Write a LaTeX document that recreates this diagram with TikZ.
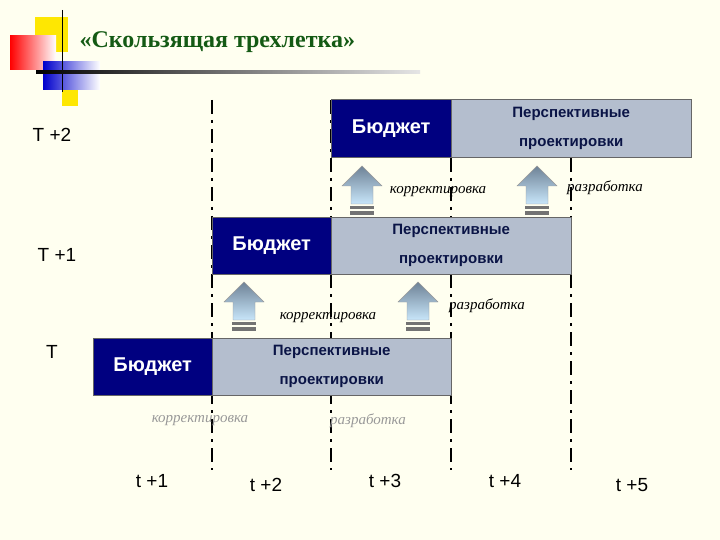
\documentclass[tikz,border=0pt]{standalone}
\usepackage{fontspec}
\setmainfont{Liberation Serif}
\newfontfamily\sansb{Liberation Sans}
\definecolor{navy}{RGB}{0,0,128}
\definecolor{pbox}{RGB}{180,190,206}
\definecolor{ptext}{RGB}{10,20,70}
\definecolor{bgc}{RGB}{255,255,240}
\definecolor{ttl}{RGB}{20,90,20}
\definecolor{atop}{RGB}{110,130,150}
\definecolor{abot}{RGB}{200,230,250}
\begin{document}
\begin{tikzpicture}[x=1pt,y=-1pt,
  budg/.style={draw=black!60,fill=navy,text=white,font=\sansb\bfseries\fontsize{20}{20}\selectfont,inner sep=0pt},
  persp/.style={draw=black!60,fill=pbox,text=ptext,font=\sansb\bfseries\fontsize{15}{29}\selectfont,align=center,inner sep=0pt},
  vl/.style={line width=2.6pt,dash pattern=on 14pt off 6pt on 3pt off 6pt},
  lab/.style={font=\itshape\fontsize{15}{15}\selectfont},
  tl/.style={font=\sansb\fontsize{19}{19}\selectfont}]
\useasboundingbox (0,0) rectangle (720,540);
\fill[bgc] (0,0) rectangle (720,540);
% decoration
\fill[yellow!90!orange] (35,17) rectangle (68,52);
\fill[yellow!90!orange] (62,88) rectangle (78,106);
\shade[left color=red, right color=white] (10,36) rectangle (56,70);
\shade[left color=blue!80!black, right color=white] (43,62) rectangle (100,90);
\draw[line width=1pt] (62,10) -- (62,92);
\shade[left color=black, right color=black!10] (36,71) rectangle (420,73.5);
\node[font=\bfseries\fontsize{24}{24}\selectfont,text=ttl,anchor=west] (title) at (76,42) {«Скользящая трехлетка»};
% vertical lines
\foreach \x/\n in {212/a,331/b,451/c,571/d}{\coordinate (t\n) at (\x,100); \coordinate (b\n) at (\x,470); \draw[vl] (t\n) -- (b\n);}
% boxes
\node[budg,minimum width=120,minimum height=58,anchor=north west] (b2) at (331,99) {Бюджет};
\node[persp,minimum width=240,minimum height=58,anchor=north west] (p2) at (451,99) {Перспективные\\проектировки};
\node[budg,minimum width=119,minimum height=57,anchor=north west] (b1) at (212,217) {Бюджет};
\node[persp,minimum width=240,minimum height=57,anchor=north west] (p1) at (331,217) {Перспективные\\проектировки};
\node[budg,minimum width=119,minimum height=57,anchor=north west] (b0) at (93,338) {Бюджет};
\node[persp,minimum width=239,minimum height=57,anchor=north west] (p0) at (212,338) {Перспективные\\проектировки};
% arrows
\foreach \x/\y/\n in {362/166/a1,537/166/a2,244/282/a3,418/282/a4}{
  \shade[top color=atop, bottom color=abot,draw=black!40]
    (\x,\y) -- (\x+20,\y+20) -- (\x+11,\y+20) -- (\x+11,\y+38) -- (\x-11,\y+38) -- (\x-11,\y+20) -- (\x-20,\y+20) -- cycle;
  \fill[black!55] (\x-12,\y+40) rectangle (\x+12,\y+43);
  \fill[black!55] (\x-12,\y+45) rectangle (\x+12,\y+49);
  \coordinate (\n) at (\x,\y);}
% labels
\node[lab] (k2) at (438,192) {корректировка};
\node[lab] (r2) at (605,188) {разработка};
\node[lab] (k1) at (328,318) {корректировка};
\node[lab] (r1) at (487,306) {разработка};
\node[lab,text=black!40] (k0) at (200,421) {корректировка};
\node[lab,text=black!40] (r0) at (368,421) {разработка};
\node[tl] (T2) at (52,135) {T +2};
\node[tl] (T1) at (57,255) {T +1};
\node[tl] (T0) at (52,352) {T};
\node[tl] (s1) at (152,481) {t +1};
\node[tl] (s2) at (266,485) {t +2};
\node[tl] (s3) at (385,481) {t +3};
\node[tl] (s4) at (505,481) {t +4};
\node[tl] (s5) at (632,485) {t +5};
\end{tikzpicture}
\end{document}
